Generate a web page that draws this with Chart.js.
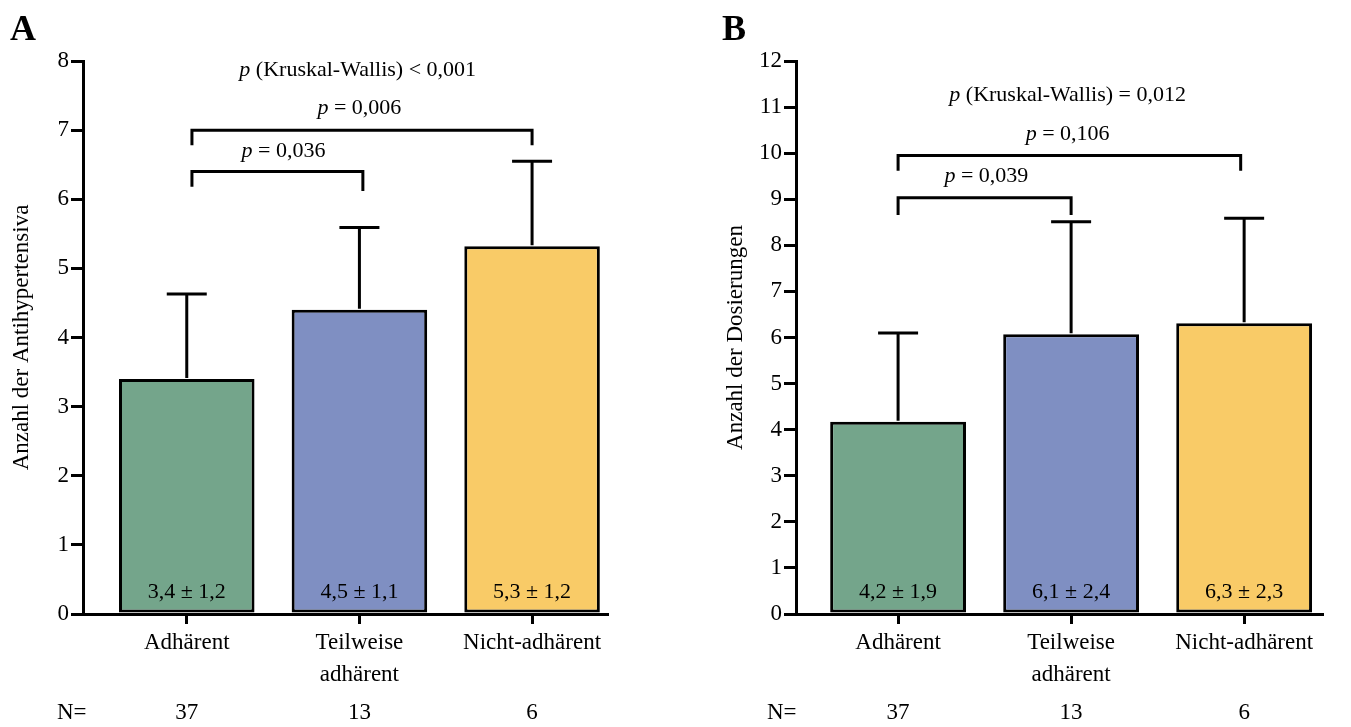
<!DOCTYPE html>
<html>
<head>
<meta charset="utf-8">
<script src="https://cdn.jsdelivr.net/npm/chart.js@4.4.0/dist/chart.umd.min.js"></script>
<style>
  body { margin: 0; background: #fff; }
  #wrap { position: relative; width: 1351px; height: 727px; }
  canvas { position: absolute; top: 0; }
</style>
</head>
<body>
<div id="wrap">
  <canvas id="chartA" width="675" height="727" style="left:0"></canvas>
  <canvas id="chartB" width="676" height="727" style="left:675px"></canvas>
</div>
<script>
// shared categories
const categories = ["Adhärent", ["Teilweise", "adhärent"], "Nicht-adhärent"];
const nValues = [37, 13, 6];
const barColors = ["#74a58b", "#7f8fc2", "#f9cb67"];

// panel A: antihypertensives
const meansA = [3.4, 4.4, 5.32];
const sdA = [1.23, 1.19, 1.23];
const valueLabelsA = ["3,4 ± 1,2", "4,5 ± 1,1", "5,3 ± 1,2"];
const bracketsA = [
  { from: 0.03, to: 2.0, y: 7.0, dropL: 6.78, dropR: 6.78, text: "= 0,006", tx: 1.0, ty: 7.32 },
  { from: 0.03, to: 1.02, y: 6.4, dropL: 6.18, dropR: 6.12, text: "= 0,036", tx: 0.56, ty: 6.69 }
];
const kwA = { text: "(Kruskal-Wallis) < 0,001", x: 0.99, y: 7.87 };

// panel B: dosings
const meansB = [4.17, 6.07, 6.31];
const sdB = [1.93, 2.44, 2.28];
const valueLabelsB = ["4,2 ± 1,9", "6,1 ± 2,4", "6,3 ± 2,3"];
const bracketsB = [
  { from: 0.0, to: 1.98, y: 9.95, dropL: 9.62, dropR: 9.62, text: "= 0,106", tx: 0.98, ty: 10.42 },
  { from: 0.0, to: 1.0, y: 9.03, dropL: 8.66, dropR: 8.66, text: "= 0,039", tx: 0.51, ty: 9.5 }
];
const kwB = { text: "(Kruskal-Wallis) = 0,012", x: 0.98, y: 11.26 };

const FONT = "'Liberation Serif', 'Times New Roman', serif";
const axisSize = 23;
const noteSize = 22;

function drawPText(ctx, x, y, rest) {
  ctx.font = "italic " + noteSize + "px " + FONT;
  const wp = ctx.measureText("p ").width;
  ctx.font = noteSize + "px " + FONT;
  const wr = ctx.measureText(rest).width;
  const start = x - (wp + wr) / 2;
  ctx.textAlign = "left";
  ctx.textBaseline = "middle";
  ctx.font = "italic " + noteSize + "px " + FONT;
  ctx.fillText("p ", start, y);
  ctx.font = noteSize + "px " + FONT;
  ctx.fillText(rest, start + wp, y);
}

const annotations = {
  id: "annotations",
  afterDatasetsDraw(chart, args, o) {
    const ctx = chart.ctx;
    const xs = chart.scales.x, ys = chart.scales.y;
    const meta = chart.getDatasetMeta(0);
    ctx.save();
    ctx.strokeStyle = "#000";
    ctx.fillStyle = "#000";
    ctx.lineWidth = 3;
    ctx.lineCap = "butt";

    // error bars (upward only)
    meta.data.forEach((bar, i) => {
      const top = ys.getPixelForValue(o.means[i] + o.sds[i]);
      ctx.beginPath();
      ctx.moveTo(bar.x, bar.y - 1);
      ctx.lineTo(bar.x, top);
      ctx.moveTo(bar.x - 20, top);
      ctx.lineTo(bar.x + 20, top);
      ctx.stroke();
    });

    // value labels inside bars
    ctx.font = noteSize + "px " + FONT;
    ctx.textAlign = "center";
    ctx.textBaseline = "middle";
    meta.data.forEach((bar, i) => {
      ctx.fillText(o.valueLabels[i], bar.x, chart.chartArea.bottom - 22);
    });

    // significance brackets
    o.brackets.forEach(b => {
      const x1 = xs.getPixelForValue(b.from), x2 = xs.getPixelForValue(b.to);
      const y = ys.getPixelForValue(b.y);
      ctx.beginPath();
      ctx.moveTo(x1, ys.getPixelForValue(b.dropL));
      ctx.lineTo(x1, y);
      ctx.lineTo(x2, y);
      ctx.lineTo(x2, ys.getPixelForValue(b.dropR));
      ctx.stroke();
      drawPText(ctx, xs.getPixelForValue(b.tx), ys.getPixelForValue(b.ty), b.text);
    });
    drawPText(ctx, xs.getPixelForValue(o.kw.x), ys.getPixelForValue(o.kw.y), o.kw.text);

    // N row
    ctx.font = axisSize + "px " + FONT;
    ctx.textBaseline = "middle";
    ctx.textAlign = "left";
    ctx.fillText("N=", o.nLabelX, 713);
    ctx.textAlign = "center";
    nValues.forEach((n, i) => ctx.fillText(String(n), xs.getPixelForValue(i), 713));

    // panel letter
    ctx.font = "bold 36px " + FONT;
    ctx.textAlign = "left";
    ctx.textBaseline = "alphabetic";
    ctx.fillText(o.letter, o.letterX, 40);
    ctx.restore();
  }
};

function makeChart(id, means, sds, valueLabels, brackets, kw, cfg) {
  const tickFont = { family: FONT, size: axisSize };
  return new Chart(document.getElementById(id), {
    type: "bar",
    data: {
      datasets: [{
        data: means.map((v, i) => ({ x: i, y: v })),
        backgroundColor: barColors,
        borderColor: "#000",
        borderWidth: 3,
        borderSkipped: false,
        barPercentage: 0.785,
        categoryPercentage: 1
      }]
    },
    options: {
      responsive: false,
      animation: false,
      layout: { padding: { top: 61, right: cfg.rightPad, left: 0, bottom: 0 } },
      plugins: {
        legend: { display: false },
        tooltip: { enabled: false },
        annotations: { means, sds, valueLabels, brackets, kw, letter: cfg.letter, letterX: cfg.letterX, nLabelX: cfg.nLabelX }
      },
      scales: {
        x: {
          type: "linear",
          min: cfg.xMin,
          max: cfg.xMax,
          offset: false,
          afterBuildTicks: s => { s.ticks = [0, 1, 2].map(v => ({ value: v })); },
          afterFit: s => { s.height = 113; },
          ticks: {
            callback: v => categories[v],
            font: { family: FONT, size: axisSize, lineHeight: 1.4 },
            color: "#000",
            padding: 3,
            maxRotation: 0,
            autoSkip: false
          },
          grid: { offset: false, drawOnChartArea: false, drawTicks: true, tickLength: 10, lineWidth: 3, color: "#000" },
          border: { width: 3, color: "#000" }
        },
        y: {
          min: 0,
          max: cfg.yMax,
          afterFit: s => { s.width = cfg.axisX; },
          ticks: { stepSize: 1, font: tickFont, color: "#000", padding: 2 },
          grid: { drawOnChartArea: false, drawTicks: true, tickLength: 12, lineWidth: 3, color: "#000" },
          border: { width: 3, color: "#000" },
          title: { display: true, text: cfg.title, font: tickFont, color: "#000", padding: { top: cfg.titlePad, bottom: 0 } }
        }
      }
    },
    plugins: [annotations]
  });
}

makeChart("chartA", meansA, sdA, valueLabelsA, bracketsA, kwA, {
  yMax: 8, axisX: 83, rightPad: 68, xMin: -0.601, xMax: 2.434,
  title: "Anzahl der Antihypertensiva", titlePad: 8, letter: "A", letterX: 10, nLabelX: 57
});
makeChart("chartB", meansB, sdB, valueLabelsB, bracketsB, kwB, {
  yMax: 12, axisX: 121, rightPad: 29, xMin: -0.59, xMax: 2.45,
  title: "Anzahl der Dosierungen", titlePad: 47, letter: "B", letterX: 47, nLabelX: 92
});
</script>
</body>
</html>
